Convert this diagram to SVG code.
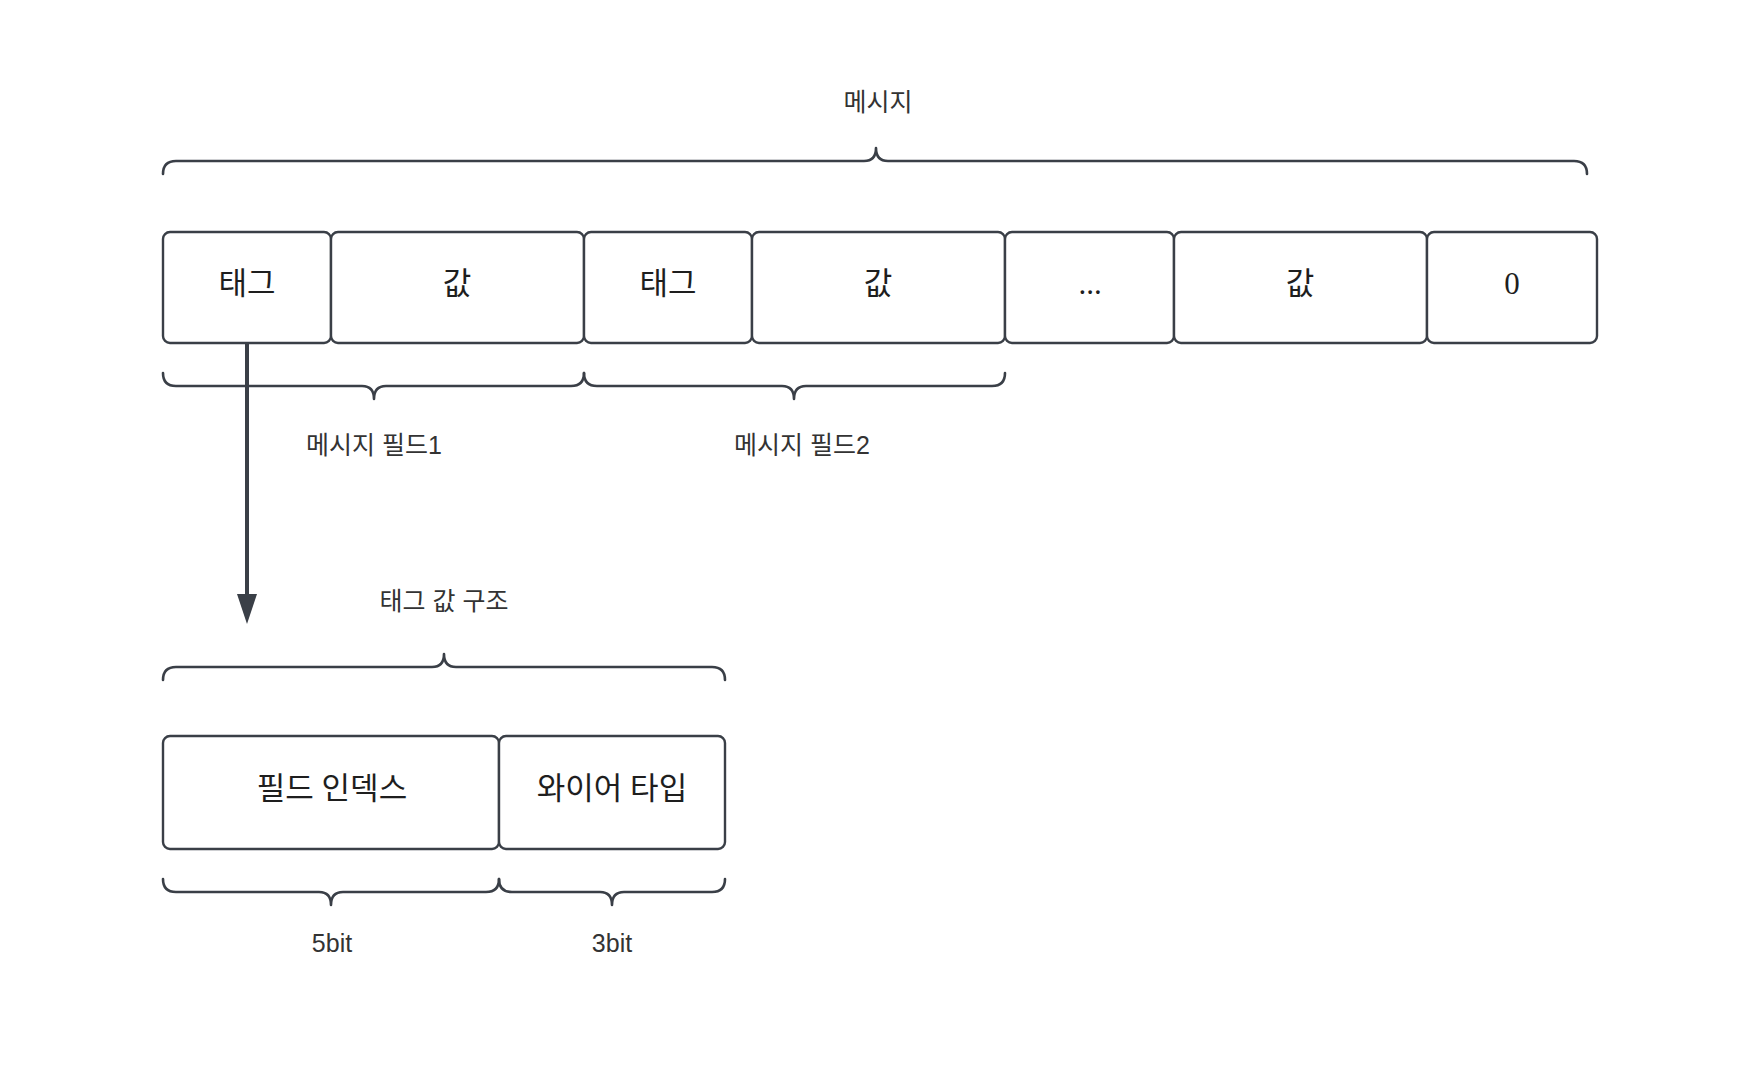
<svg xmlns="http://www.w3.org/2000/svg" width="1740" height="1088" viewBox="0 0 1740 1088">
<style>
.box{fill:#ffffff;stroke:#3a3f47;stroke-width:2.4}
.brace{fill:none;stroke:#3a3f47;stroke-width:2.6;stroke-linecap:round;stroke-linejoin:round}
.btxt{font-family:"Liberation Serif","Noto Sans CJK KR",serif;font-size:31px;fill:#1e1e1e;text-anchor:middle}
.lbl{font-family:"Liberation Sans","Noto Sans CJK KR",sans-serif;font-size:25px;fill:#333333;text-anchor:middle}
.conn{fill:none;stroke:#3a3f47;stroke-width:4}
</style>
<defs>
<marker id="ah" markerUnits="userSpaceOnUse" markerWidth="30" markerHeight="20" viewBox="0 0 30 20" refX="1" refY="10" orient="auto">
<path d="M0,0 L30,10 L0,20 z" fill="#3a3f47"/>
</marker>
</defs>
<rect width="1740" height="1088" fill="#ffffff"/>

<g id="title">
<text class="lbl" x="878" y="111">메시지</text>
<path class="brace" d="M163,174 Q163,161 176,161 L864,161 Q876,161 876,148 Q876,161 888,161 L1574,161 Q1587,161 1587,174"/>
</g>

<g id="n-tag1"><rect class="box" x="163" y="232" width="168" height="111" rx="7"/><text class="btxt" x="247" y="294">태그</text></g>
<g id="n-val1"><rect class="box" x="331" y="232" width="253" height="111" rx="7"/><text class="btxt" x="457" y="294">값</text></g>
<g id="n-tag2"><rect class="box" x="584" y="232" width="168" height="111" rx="7"/><text class="btxt" x="668" y="294">태그</text></g>
<g id="n-val2"><rect class="box" x="752" y="232" width="253" height="111" rx="7"/><text class="btxt" x="878" y="294">값</text></g>
<g id="n-dots"><rect class="box" x="1005" y="232" width="169" height="111" rx="7"/><text class="btxt" x="1090" y="294">...</text></g>
<g id="n-val3"><rect class="box" x="1174" y="232" width="253" height="111" rx="7"/><text class="btxt" x="1300" y="294">값</text></g>
<g id="n-zero"><rect class="box" x="1427" y="232" width="170" height="111" rx="7"/><text class="btxt" x="1512" y="294">0</text></g>

<g id="field1">
<path class="brace" d="M163,373 Q163,386 176,386 L362,386 Q374,386 374,399 Q374,386 386,386 L571,386 Q584,386 584,373"/>
<text class="lbl" x="374" y="454">메시지 필드1</text>
</g>
<g id="field2">
<path class="brace" d="M584,373 Q584,386 597,386 L782,386 Q794,386 794,399 Q794,386 806,386 L992,386 Q1005,386 1005,373"/>
<text class="lbl" x="802" y="454">메시지 필드2</text>
</g>

<g id="tagstruct">
<text class="lbl" x="444" y="610">태그 값 구조</text>
<path class="brace" d="M163,680 Q163,667 176,667 L432,667 Q444,667 444,654 Q444,667 456,667 L712,667 Q725,667 725,680"/>
</g>

<g id="n-fieldindex"><rect class="box" x="163" y="736" width="336" height="113" rx="7"/><text class="btxt" x="332" y="799">필드 인덱스</text></g>
<g id="n-wiretype"><rect class="box" x="499" y="736" width="226" height="113" rx="7"/><text class="btxt" x="612" y="799">와이어 타입</text></g>

<g id="bits5">
<path class="brace" d="M163,879 Q163,892 176,892 L319,892 Q331,892 331,905 Q331,892 343,892 L486,892 Q499,892 499,879"/>
<text class="lbl" x="332" y="952">5bit</text>
</g>
<g id="bits3">
<path class="brace" d="M499,879 Q499,892 512,892 L600,892 Q612,892 612,905 Q612,892 624,892 L712,892 Q725,892 725,879"/>
<text class="lbl" x="612" y="952">3bit</text>
</g>

<g id="connectors">
<path class="conn" d="M247,343 L247,595" marker-end="url(#ah)"/>
</g>
</svg>
